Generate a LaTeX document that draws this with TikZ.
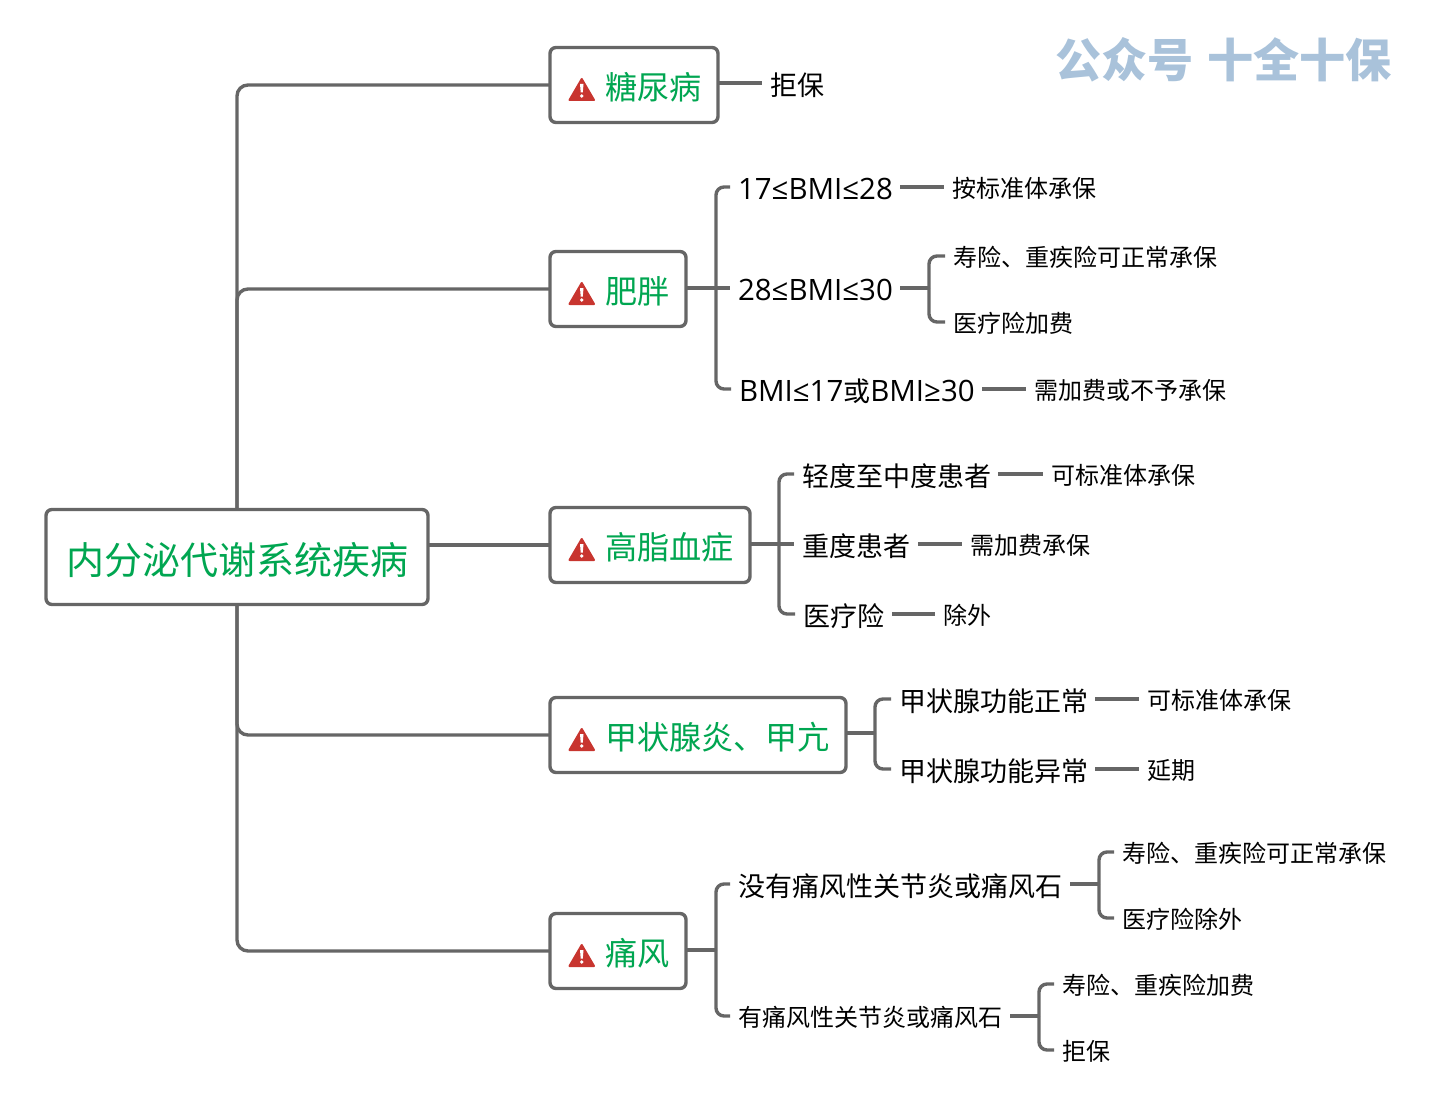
\documentclass[tikz,border=0pt]{standalone}
\usepackage{fontspec}
\setmainfont{Noto Sans CJK SC}
\newfontfamily\latfont[Scale=1.09]{Open Sans}
\newcommand{\lat}[1]{{\latfont #1}}
\newdimen\pxu \pxu=0.75pt
\definecolor{linegray}{HTML}{666666}
\definecolor{titlegreen}{HTML}{00A651}
\definecolor{alertred}{HTML}{C8352F}
\definecolor{markblue}{HTML}{A9C2DA}
\tikzset{
  conn/.style={draw=linegray,line width=3.4\pxu,rounded corners=8\pxu},
  trunk/.style={draw=linegray,line width=3.4\pxu,rounded corners=11\pxu},
  topicbox/.style={draw=linegray,fill=white,line width=3.4\pxu,rounded corners=6\pxu,anchor=west,
    outer sep=0pt,inner ysep=0pt,inner xsep=16\pxu,minimum width=#1\pxu,minimum height=75\pxu,
    text width=(#1-32)*\pxu,align=right,text=titlegreen,font=\fontsize{24.1pt}{28pt}\selectfont,
    text height=33.2\pxu,text depth=3.8\pxu},
  rootbox/.style={draw=linegray,fill=white,line width=3.4\pxu,rounded corners=6\pxu,
    outer sep=0pt,inner sep=0pt,minimum width=382\pxu,minimum height=95\pxu,
    text width=382\pxu,align=center,text=titlegreen,font=\fontsize{28.5pt}{32pt}\selectfont,
    text height=39\pxu,text depth=4.8\pxu},
  midlabel/.style={anchor=west,outer sep=0pt,inner ysep=0pt,inner xsep=8\pxu,text width=#1\pxu,align=left,
    font=\fontsize{20.25pt}{24pt}\selectfont,text height=27.6\pxu,text depth=3.2\pxu},
  leaflabel/.style={anchor=west,outer sep=0pt,inner ysep=0pt,inner xsep=8\pxu,text width=#1\pxu,align=left,
    font=\fontsize{18pt}{22pt}\selectfont,text height=23.1\pxu,text depth=2.9\pxu},
  warnsign/.pic={
    \fill[alertred,draw=alertred,line width=2\pxu,line join=round] (19.5,15) -- (44,15) -- (31.75,-6) -- cycle;
    \fill[white] (30,-1) -- (33.5,-1) -- (32.8,7.5) -- (30.7,7.5) -- cycle;
    \fill[white] (31.75,11) circle (1.9);
  }
}
\begin{document}
\begin{tikzpicture}[x=0.75pt,y=-0.75pt]
\useasboundingbox (0,0) rectangle (1432,1102);

% central topic and its five branches
\node[rootbox] (root) at (237,557) {内分泌代谢系统疾病};
\node[topicbox=168] (diabetes) at (550,85) {糖尿病};
\node[topicbox=136] (obesity) at (550,289) {肥胖};
\node[topicbox=200] (lipid) at (550,545) {高脂血症};
\node[topicbox=296] (thyroid) at (550,735) {甲状腺炎、甲亢};
\node[topicbox=136] (gout) at (550,951) {痛风};
\foreach \b in {diabetes,obesity,lipid,thyroid,gout}
  \path (\b.west) pic {warnsign};

\draw[trunk] (root.north) |- (diabetes.west);
\draw[trunk] (root.north) |- (obesity.west);
\draw[trunk] (root.south) |- (thyroid.west);
\draw[trunk] (root.south) |- (gout.west);
\draw[conn] (root.east |- lipid.west) -- (lipid.west);

% diabetes
\node[midlabel=54] (dreject) at (762,83) {拒保};
\draw[conn] (diabetes.east |- dreject.west) -- (dreject.west);

% obesity
\coordinate (jobesity) at (716,288);
\node[midlabel=154] (bmia) at (730,187) {\lat{17≤BMI≤28}};
\node[midlabel=154] (bmib) at (730,288) {\lat{28≤BMI≤30}};
\node[midlabel=235] (bmic) at (731,389) {\lat{BMI≤17}或\lat{BMI≥30}};
\node[leaflabel=144] (bmia1) at (944,187) {按标准体承保};
\coordinate (jbmib) at (929,288);
\node[leaflabel=264] (bmib1) at (945,256) {寿险、重疾险可正常承保};
\node[leaflabel=120] (bmib2) at (945,322) {医疗险加费};
\node[leaflabel=192] (bmic1) at (1026,389) {需加费或不予承保};
\draw[conn] (obesity.east |- jobesity) -- (jobesity);
\draw[conn] (jobesity) |- (bmia.west);
\draw[conn] (jobesity) -- (bmib.west);
\draw[conn] (jobesity) |- (bmic.west);
\draw[conn] (bmia.east) -- (bmia1.west);
\draw[conn] (bmib.east) -- (jbmib);
\draw[conn] (jbmib) |- (bmib1.west);
\draw[conn] (jbmib) |- (bmib2.west);
\draw[conn] (bmic.east) -- (bmic1.west);

% hyperlipidemia
\coordinate (jlipid) at (779,544);
\node[midlabel=188] (lipa) at (794,474) {轻度至中度患者};
\node[midlabel=108] (lipb) at (794,544) {重度患者};
\node[midlabel=81] (lipc) at (795,614) {医疗险};
\node[leaflabel=144] (lipa1) at (1043,474) {可标准体承保};
\node[leaflabel=120] (lipb1) at (962,544) {需加费承保};
\node[leaflabel=48] (lipc1) at (935,614) {除外};
\draw[conn] (lipid.east |- jlipid) -- (jlipid);
\draw[conn] (jlipid) |- (lipa.west);
\draw[conn] (jlipid) -- (lipb.west);
\draw[conn] (jlipid) |- (lipc.west);
\draw[conn] (lipa.east) -- (lipa1.west);
\draw[conn] (lipb.east) -- (lipb1.west);
\draw[conn] (lipc.east) -- (lipc1.west);

% thyroid
\coordinate (jthyroid) at (875,733);
\node[midlabel=188] (thya) at (891,699) {甲状腺功能正常};
\node[midlabel=188] (thyb) at (891,769) {甲状腺功能异常};
\node[leaflabel=144] (thya1) at (1139,699) {可标准体承保};
\node[leaflabel=48] (thyb1) at (1139,769) {延期};
\draw[conn] (thyroid.east |- jthyroid) -- (jthyroid);
\draw[conn] (jthyroid) |- (thya.west);
\draw[conn] (jthyroid) |- (thyb.west);
\draw[conn] (thya.east) -- (thya1.west);
\draw[conn] (thyb.east) -- (thyb1.west);

% gout
\coordinate (jgout) at (716,950);
\node[midlabel=324] (gouta) at (730,884) {没有痛风性关节炎或痛风石};
\node[leaflabel=264] (goutb) at (730,1016) {有痛风性关节炎或痛风石};
\coordinate (jgouta) at (1099,884);
\coordinate (jgoutb) at (1039,1016);
\node[leaflabel=264] (gouta1) at (1114,852) {寿险、重疾险可正常承保};
\node[leaflabel=120] (gouta2) at (1114,918) {医疗险除外};
\node[leaflabel=192] (goutb1) at (1054,984) {寿险、重疾险加费};
\node[leaflabel=48] (goutb2) at (1054,1050) {拒保};
\draw[conn] (gout.east |- jgout) -- (jgout);
\draw[conn] (jgout) |- (gouta.west);
\draw[conn] (jgout) |- (goutb.west);
\draw[conn] (gouta.east) -- (jgouta);
\draw[conn] (goutb.east) -- (jgoutb);
\draw[conn] (jgouta) |- (gouta1.west);
\draw[conn] (jgouta) |- (gouta2.west);
\draw[conn] (jgoutb) |- (goutb1.west);
\draw[conn] (jgoutb) |- (goutb2.west);

% account name
\node[anchor=west,inner sep=0pt,text=markblue,font=\fontsize{34.6pt}{38pt}\selectfont\bfseries] (account) at (1055,60) {公众号\hspace{10pt}十全十保};
\end{tikzpicture}
\end{document}
